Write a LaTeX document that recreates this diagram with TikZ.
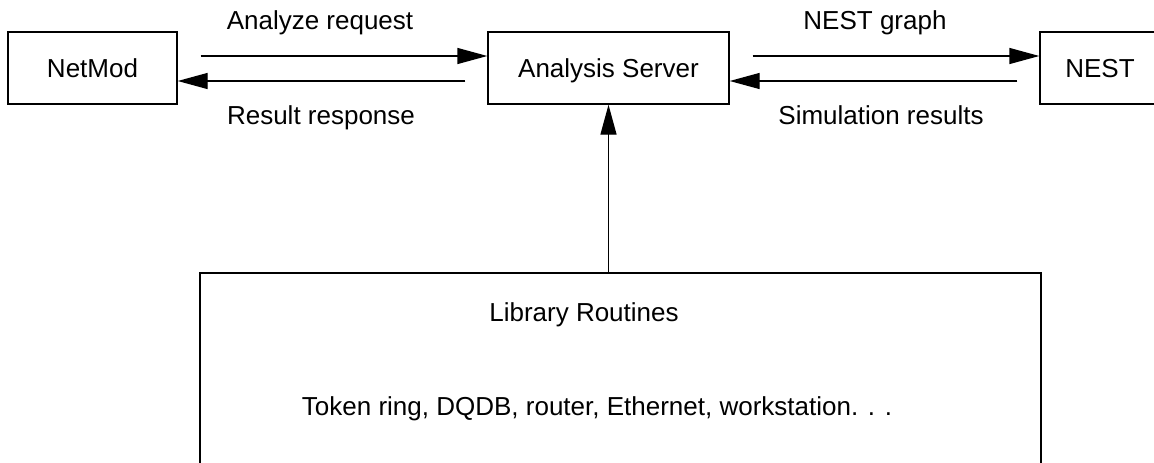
\documentclass[tikz,border=0pt]{standalone}
\usepackage{fontspec}
\setmainfont{Liberation Sans}
\usetikzlibrary{arrows.meta}
\begin{document}
\begin{tikzpicture}[x=1pt,y=-1pt,
  box/.style={draw, line width=1.4pt, minimum height=72pt, inner sep=0pt, text depth=0pt,
    font=\fontsize{26}{30}\selectfont},
  lbl/.style={anchor=base, inner sep=0pt, font=\fontsize{26}{30}\selectfont},
  arr/.style={line width=1.4pt, -{Triangle[length=30pt,width=16pt]}}]
\useasboundingbox (0,0) rectangle (1154,463);
\begin{scope}
\clip (0,0) rectangle (1154,463);
\node[box, minimum width=169pt] (netmod) at (92.5,68) {NetMod};
\node[box, minimum width=241pt] (srv) at (608.5,68) {Analysis Server};
\node[box, minimum width=120pt] (nest) at (1100,68) {NEST};
\node[draw, line width=1.4pt, minimum width=841pt, minimum height=227pt, inner sep=0pt] (lib) at (620.5,386.5) {};
\end{scope}
\node[lbl] (libt) at (584,321) {Library Routines};
\node[lbl] (tok) at (597,415) {Token ring, DQDB, router, Ethernet, workstation. . .};
\node[lbl] (l1) at (320,29) {Analyze request};
\node[lbl] (l2) at (321,124) {Result response};
\node[lbl] (l3) at (875,29) {NEST graph};
\node[lbl] (l4) at (881,124) {Simulation results};
\draw[arr] ([xshift=23pt,yshift=12pt]netmod.east) -- ([yshift=12pt]srv.west);
\draw[arr] ([xshift=-22pt,yshift=-13pt]srv.west) -- ([yshift=-13pt]netmod.east);
\draw[arr] ([xshift=23pt,yshift=12pt]srv.east) -- ([yshift=12pt]nest.west);
\draw[arr] ([xshift=-22pt,yshift=-13pt]nest.west) -- ([yshift=-13pt]srv.east);
\draw[arr] (srv.south |- lib.north) -- (srv.south);
\end{tikzpicture}
\end{document}
